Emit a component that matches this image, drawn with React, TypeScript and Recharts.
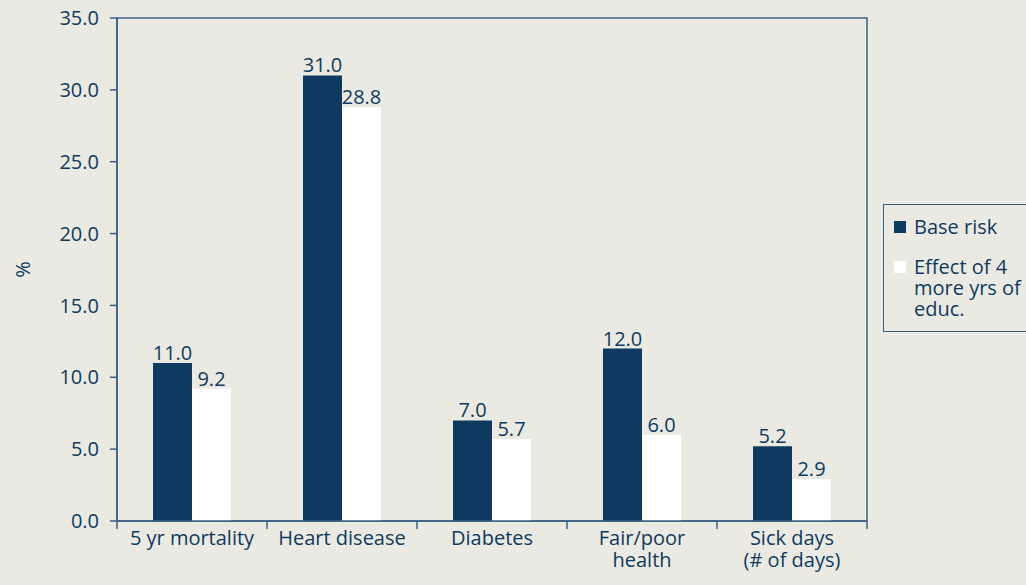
import React from 'react';
import { BarChart, Bar, XAxis, YAxis, Legend, LabelList, ReferenceArea } from 'recharts';

document.body.style.margin = '0';

const categories = ['5 yr mortality', 'Heart disease', 'Diabetes', 'Fair/poor\nhealth', 'Sick days\n(# of days)'];
const baseRisk = [11.0, 31.0, 7.0, 12.0, 5.2];
const educEffect = [9.2, 28.8, 5.7, 6.0, 2.9];
const yTicks = [0, 5, 10, 15, 20, 25, 30, 35];

const data = categories.map((name, i) => ({ name, base: baseRisk[i], educ: educEffect[i] }));

const NAVY = '#0e3a5f';
const AXIS = '#3b5f82';
const BG = '#ebeae2';
const FONT = '"Open Sans", sans-serif';
const FS = 20;

const W = 1026;
const H = 585;
const M = { top: 18, right: 159, left: 0, bottom: 4 };
const Y_W = 117;
const BAND = (W - M.left - Y_W - M.right) / categories.length;

const CategoryTick = (props: any) => {
  const { x, y, payload, index } = props;
  const lines = String(payload.value).split('\n');
  const half = BAND / 2;
  return (
    <g>
      <line x1={x - half} x2={x - half} y1={y} y2={y + 8} stroke={AXIS} strokeWidth={1.5} />
      {index === categories.length - 1 && (
        <line x1={x + half} x2={x + half} y1={y} y2={y + 8} stroke={AXIS} strokeWidth={1.5} />
      )}
      {lines.map((l, i) => (
        <text key={i} x={x} y={y + 24 + i * 22} textAnchor="middle" fill={NAVY} fontSize={FS} fontFamily={FONT}>
          {l}
        </text>
      ))}
    </g>
  );
};

const LegendBox = (props: any) => {
  const items = props.payload || [];
  return (
    <div
      style={{
        border: `1.5px solid ${AXIS}`,
        width: 160,
        height: 128,
        boxSizing: 'border-box',
        padding: '11px 0 0 10px',
        fontFamily: FONT,
        fontSize: FS,
        color: NAVY,
        lineHeight: '21px',
        textAlign: 'left',
      }}
    >
      {items.map((it: any, i: number) => (
        <div key={i} style={{ display: 'flex', alignItems: 'flex-start', marginBottom: 19 }}>
          <span
            style={{
              display: 'inline-block',
              width: 12,
              height: 12,
              background: it.color,
              marginTop: 5,
              marginRight: 8,
              flexShrink: 0,
            }}
          />
          <span style={{ width: 112 }}>{it.value}</span>
        </div>
      ))}
    </div>
  );
};

const PercentLabel = (props: any) => {
  const { viewBox } = props;
  const cx = viewBox.x + 22;
  const cy = viewBox.y + viewBox.height / 2;
  return (
    <text x={cx} y={cy} transform={`rotate(-90 ${cx} ${cy})`} textAnchor="middle" dominantBaseline="central" fill={NAVY} fontSize={FS} fontFamily={FONT}>
      %
    </text>
  );
};

export default function App() {
  return (
    <div style={{ width: W, height: H, background: BG, overflow: 'hidden', position: 'relative' }}>
      <BarChart width={W} height={H} data={data} margin={M} barCategoryGap="24%" barGap={0}>
        <XAxis
          dataKey="name"
          axisLine={{ stroke: AXIS, strokeWidth: 1.5 }}
          tickLine={false}
          tickSize={0}
          tickMargin={0}
          height={60}
          interval={0}
          tick={<CategoryTick />}
        />
        <YAxis
          domain={[0, 35]}
          ticks={yTicks}
          width={Y_W}
          tickSize={7}
          tickMargin={11}
          tickFormatter={(v: number) => v.toFixed(1)}
          tick={{ fill: NAVY, fontSize: FS, fontFamily: FONT }}
          axisLine={{ stroke: AXIS, strokeWidth: 1.5 }}
          tickLine={{ stroke: AXIS, strokeWidth: 1.5 }}
          label={<PercentLabel />}
        />
        <ReferenceArea y1={0} y2={35} fill="none" stroke={AXIS} strokeWidth={1.5} ifOverflow="visible" />
        <Legend
          layout="vertical"
          align="center"
          verticalAlign="middle"
          content={<LegendBox />}
          wrapperStyle={{ position: 'absolute', left: 883, top: 204, width: 160 }}
        />
        <Bar dataKey="base" name="Base risk" fill={NAVY} isAnimationActive={false}>
          <LabelList dataKey="base" position="top" offset={3} formatter={(v: any) => Number(v).toFixed(1)} fill={NAVY} fontSize={FS} fontFamily={FONT} />
        </Bar>
        <Bar dataKey="educ" name="Effect of 4 more yrs of educ." fill="#ffffff" isAnimationActive={false}>
          <LabelList dataKey="educ" position="top" offset={3} formatter={(v: any) => Number(v).toFixed(1)} fill={NAVY} fontSize={FS} fontFamily={FONT} />
        </Bar>
      </BarChart>
    </div>
  );
}
